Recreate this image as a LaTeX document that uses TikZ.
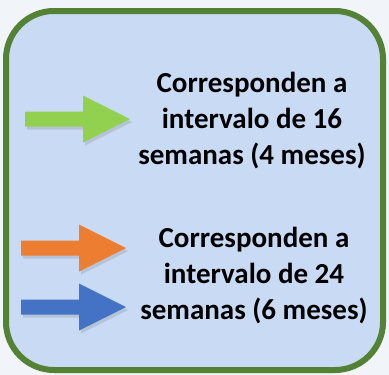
\documentclass[tikz,border=0pt]{standalone}
\usepackage{fontspec}
\setmainfont{Carlito}
\usepackage{tikz}
\usetikzlibrary{shadows}
\definecolor{boxfill}{HTML}{C9DAF5}
\definecolor{boxline}{HTML}{548235}
\definecolor{paper}{HTML}{F1F4F9}
\definecolor{arrgreen}{HTML}{92D050}
\definecolor{arrorange}{HTML}{ED7D31}
\definecolor{arrblue}{HTML}{4472C4}
\tikzset{x=1pt,y=-1pt,
panel/.style={fill=boxfill, draw=boxline, line width=6pt, rounded corners=48pt},
note/.style={align=center, inner sep=0pt, font=\fontsize{29}{36}\selectfont\bfseries},
pics/fatarrow/.style={code={
  \fill[pic actions, drop shadow={shadow xshift=2pt, shadow yshift=-3pt, opacity=.25}]
    (-105,-7.5) -- (-47,-7.5) -- (-47,-23.5) -- (0,0) -- (-47,23.5)
    -- (-47,7.5) -- (-105,7.5) -- cycle;
}}}

\begin{document}
\begin{tikzpicture}
\fill[paper] (0,0) rectangle (389,375);
\useasboundingbox (0,0) rectangle (389,375);
\draw[panel] (6,11) rectangle (383,370);
\node[note] (upper) at (252,121) {Corresponden a\\intervalo de 16\\semanas (4 meses)};
\node[note] (lower) at (254,276) {Corresponden a\\intervalo de 24\\semanas (6 meses)};
\pic[fill=arrgreen] (greenarr) at (130,119) {fatarrow};
\pic[fill=arrorange] (orangearr) at (126,248) {fatarrow};
\pic[fill=arrblue] (bluearr) at (126,307) {fatarrow};
\end{tikzpicture}
\end{document}
